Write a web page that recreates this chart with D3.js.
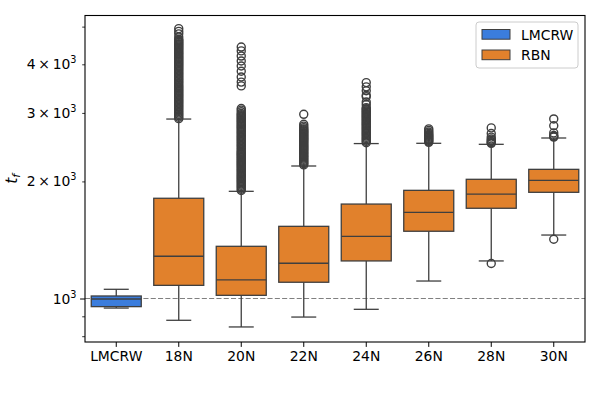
<!DOCTYPE html>
<html>
<head>
<meta charset="utf-8">
<script src="https://cdn.jsdelivr.net/npm/d3@7"></script>
<style>
  body { margin: 0; background: #fff; }
  svg { font-family: "DejaVu Sans", sans-serif; }
</style>
</head>
<body>
<svg id="chart" width="600" height="400"></svg>
<script>
// ---------------- data ----------------
const categories = ["LMCRW", "18N", "20N", "22N", "24N", "26N", "28N", "30N"];
const groups = ["LMCRW", "RBN", "RBN", "RBN", "RBN", "RBN", "RBN", "RBN"];
const whiskerLow  = [945, 879, 845, 896, 938, 1109, 1249, 1456];
const q1          = [953, 1081, 1019, 1101, 1249, 1489, 1706, 1875];
const median      = [997, 1284, 1116, 1232, 1445, 1665, 1856, 2013];
const q3          = [1015, 1810, 1362, 1533, 1749, 1897, 2025, 2148];
const whiskerHigh = [1056, 2893, 1886, 2191, 2502, 2506, 2491, 2586];

const fliersLMCRW = [];
const fliers18N = [2900, 2925, 2950, 2975, 3000, 3025, 3050, 3075, 3100, 3125, 3150, 3175, 3200, 3225, 3250, 3275,
  3300, 3325, 3350, 3375, 3400, 3425, 3450, 3475, 3500, 3530, 3560, 3590, 3620, 3650, 3680, 3710, 3740, 3770,
  3800, 3830, 3860, 3890, 3920, 3950, 3980, 4010, 4040, 4070, 4100, 4130, 4160, 4190, 4220, 4250, 4280, 4310,
  4340, 4370, 4400, 4430, 4460, 4490, 4520, 4550, 4580, 4610, 4640, 4700, 4790, 4860, 4940];
const fliers20N = [1895, 1910, 1925, 1940, 1955, 1970, 1985, 2000, 2015, 2030, 2045, 2060, 2075, 2090, 2105, 2120,
  2135, 2150, 2165, 2180, 2195, 2210, 2225, 2240, 2255, 2270, 2285, 2300, 2315, 2330, 2345, 2360, 2375, 2390,
  2410, 2430, 2450, 2470, 2490, 2510, 2530, 2550, 2570, 2590, 2610, 2630, 2650, 2670, 2690, 2710, 2730, 2750,
  2770, 2790, 2810, 2830, 2850, 2870, 2890, 2910, 2930, 2950, 2970, 2990, 3020, 3050, 3080,
  3520, 3600, 3710, 3840, 3960, 4080, 4200, 4330, 4430];
const fliers22N = [2205, 2220, 2235, 2250, 2265, 2280, 2295, 2310, 2325, 2340, 2355, 2370, 2385, 2400, 2415, 2430,
  2445, 2460, 2475, 2490, 2505, 2520, 2535, 2550, 2565, 2580, 2595, 2610, 2625, 2640, 2655, 2670, 2685, 2700,
  2715, 2730, 2750, 2775, 2805, 2975];
const fliers24N = [2515, 2535, 2555, 2575, 2595, 2615, 2635, 2655, 2675, 2695, 2715, 2735, 2755, 2775, 2795, 2815,
  2835, 2855, 2875, 2895, 2915, 2935, 2955, 2975, 2995, 3015, 3035, 3055, 3075, 3095, 3150, 3200, 3300, 3330,
  3420, 3500, 3590];
const fliers26N = [2520, 2535, 2550, 2565, 2580, 2595, 2610, 2625, 2640, 2660, 2680, 2705, 2730];
const fliers28N = [1230, 2505, 2515, 2530, 2550, 2570, 2600, 2655, 2745];
const fliers30N = [1420, 2600, 2610, 2625, 2665, 2780, 2895];
const fliers = [fliersLMCRW, fliers18N, fliers20N, fliers22N, fliers24N, fliers26N, fliers28N, fliers30N];

const legendLabels = ["LMCRW", "RBN"];
const colors = { "LMCRW": "#3b7ddd", "RBN": "#e1812c" };
const refValue = 1000;
const majorTicks = [1000];
const minorTicks = [800, 900, 2000, 3000, 4000, 5000];
const labelTicks = [
  { v: 1000, m: "", e: "3" },
  { v: 2000, m: "2", e: "3" },
  { v: 3000, m: "3", e: "3" },
  { v: 4000, m: "4", e: "3" }
];

// ---------------- layout ----------------
const L = 85, R = 585, T = 15.5, B = 342;
const lineCol = "#3f3f3f";
const svg = d3.select("#chart");

const x = d3.scaleBand().domain(categories).range([L, R]).padding(0);
const y = d3.scaleLog().domain([773, 5340]).range([B, T]);
const bw = x.bandwidth() * 0.8;

// reference dashed line
svg.append("line")
  .attr("x1", L).attr("x2", R)
  .attr("y1", y(refValue)).attr("y2", y(refValue))
  .attr("stroke", "#808080").attr("stroke-width", 1)
  .attr("stroke-dasharray", "5.1,2.2");

const data = categories.map((c, i) => ({
  c, g: groups[i], lo: whiskerLow[i], q1: q1[i], med: median[i], q3: q3[i], hi: whiskerHigh[i], fl: fliers[i]
}));

const gb = svg.append("g");
data.forEach(d => {
  const cx = x(d.c) + x.bandwidth() / 2;
  const g = gb.append("g");
  g.append("line").attr("x1", cx).attr("x2", cx).attr("y1", y(d.q1)).attr("y2", y(d.lo))
    .attr("stroke", lineCol).attr("stroke-width", 1.3);
  g.append("line").attr("x1", cx).attr("x2", cx).attr("y1", y(d.q3)).attr("y2", y(d.hi))
    .attr("stroke", lineCol).attr("stroke-width", 1.3);
  [d.lo, d.hi].forEach(v => {
    g.append("line").attr("x1", cx - bw / 4).attr("x2", cx + bw / 4).attr("y1", y(v)).attr("y2", y(v))
      .attr("stroke", lineCol).attr("stroke-width", 1.3);
  });
  g.append("rect").attr("x", cx - bw / 2).attr("width", bw)
    .attr("y", y(d.q3)).attr("height", y(d.q1) - y(d.q3))
    .attr("fill", colors[d.g]).attr("stroke", lineCol).attr("stroke-width", 1.3);
  g.append("line").attr("x1", cx - bw / 2).attr("x2", cx + bw / 2).attr("y1", y(d.med)).attr("y2", y(d.med))
    .attr("stroke", lineCol).attr("stroke-width", 1.3);
  g.selectAll("circle").data(d.fl).join("circle")
    .attr("cx", cx).attr("cy", v => y(v)).attr("r", 4)
    .attr("fill", "none").attr("stroke", lineCol).attr("stroke-width", 1.4);
});

// axes
const xAxis = svg.append("g").attr("transform", `translate(0,${B})`)
  .call(d3.axisBottom(x).tickSize(4.9).tickPadding(4));
xAxis.select(".domain").remove();
xAxis.selectAll("text").attr("font-size", "13.9px").attr("fill", "#000")
  .attr("font-family", "DejaVu Sans, sans-serif");
xAxis.selectAll("line").attr("stroke", "#000").attr("stroke-width", 1);

const yMaj = svg.append("g").attr("transform", `translate(${L},0)`)
  .call(d3.axisLeft(y).tickValues(majorTicks).tickSize(4.9).tickFormat(""));
yMaj.select(".domain").remove();
yMaj.selectAll("line").attr("stroke", "#000").attr("stroke-width", 1);
const yMin = svg.append("g").attr("transform", `translate(${L},0)`)
  .call(d3.axisLeft(y).tickValues(minorTicks).tickSize(2.8).tickFormat(""));
yMin.select(".domain").remove();
yMin.selectAll("line").attr("stroke", "#000").attr("stroke-width", 0.8);

labelTicks.forEach(t => {
  const tx = svg.append("text")
    .attr("x", 76.5).attr("y", y(t.v) + 5)
    .attr("text-anchor", "end").attr("font-size", "13.9px").attr("fill", "#000");
  tx.append("tspan").text(t.m ? t.m + "\u2009\u00d7\u200910" : "10");
  tx.append("tspan").attr("font-size", "9.7px").attr("dy", -6).text(t.e);
});

// frame
svg.append("rect").attr("x", L).attr("y", T).attr("width", R - L).attr("height", B - T)
  .attr("fill", "none").attr("stroke", "#000").attr("stroke-width", 1.1);

// y label t_f
const yl = svg.append("text")
  .attr("transform", `translate(17,${(T + B) / 2}) rotate(-90)`)
  .attr("text-anchor", "middle").attr("font-size", "15.5px").attr("font-style", "italic").attr("fill", "#000");
yl.append("tspan").text("t");
yl.append("tspan").attr("font-size", "11px").attr("dy", 3).text("f");

// legend
const lg = svg.append("g");
lg.append("rect").attr("x", 476).attr("y", 22).attr("width", 102).attr("height", 46).attr("rx", 3)
  .attr("fill", "#fff").attr("fill-opacity", 0.8).attr("stroke", "#cccccc").attr("stroke-width", 1);
legendLabels.forEach((name, i) => {
  const yy = 29.5 + i * 20.5;
  lg.append("rect").attr("x", 482).attr("y", yy).attr("width", 28).attr("height", 9.7)
    .attr("fill", colors[name]).attr("stroke", lineCol).attr("stroke-width", 1);
  lg.append("text").attr("x", 521).attr("y", yy + 10).attr("font-size", "13.9px").attr("fill", "#000").text(name);
});
</script>
</body>
</html>
